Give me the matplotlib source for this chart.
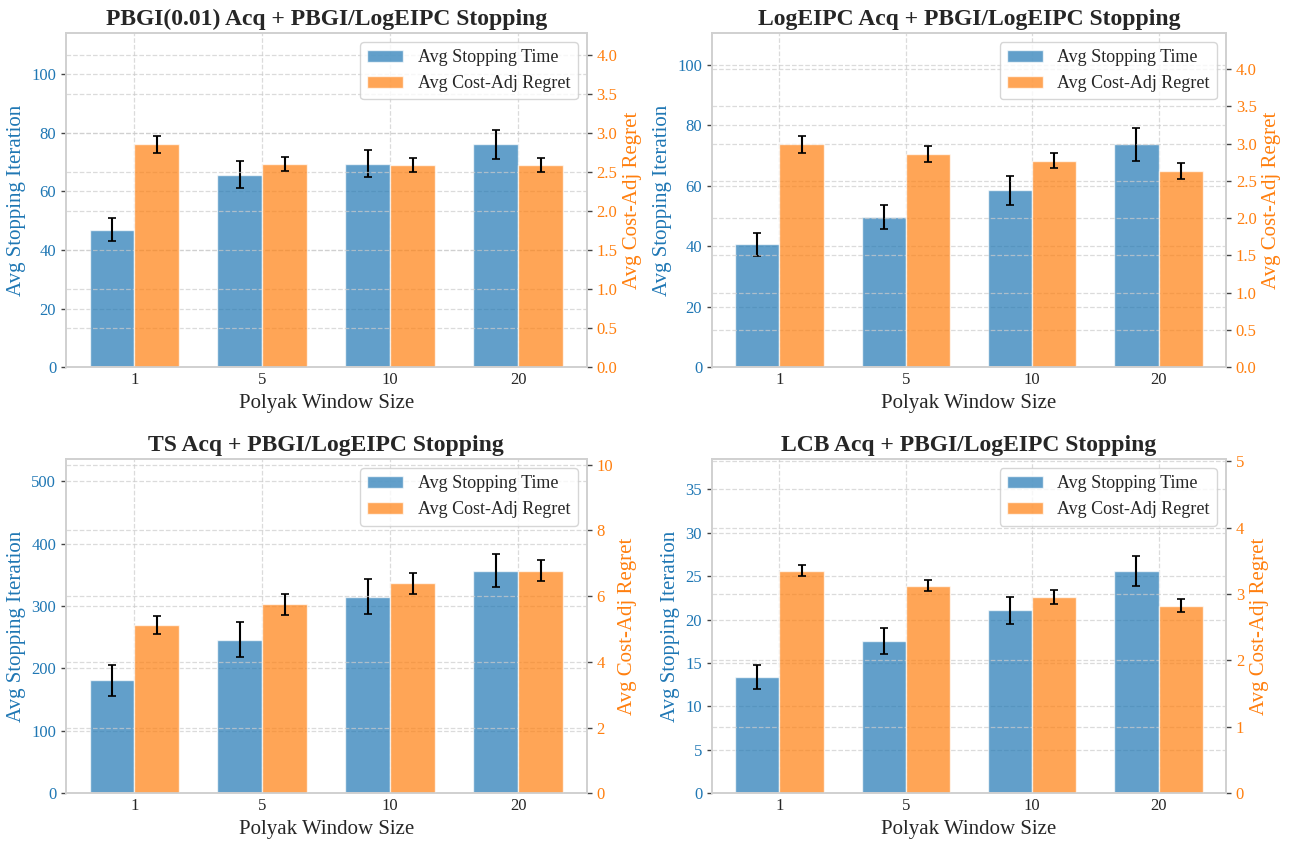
import matplotlib.pyplot as plt
import numpy as np

# ─── data ─────────────────────────────────────────────────────────────────────
windows = ["1", "5", "10", "20"]

titles = [
    "PBGI(0.01) Acq + PBGI/LogEIPC Stopping",
    "LogEIPC Acq + PBGI/LogEIPC Stopping",
    "TS Acq + PBGI/LogEIPC Stopping",
    "LCB Acq + PBGI/LogEIPC Stopping",
]

# avg stopping iteration (mean, err) per panel
stop_pbgi = [46.8, 65.7, 69.4, 76.0]
stop_pbgi_err = [3.9, 4.5, 4.7, 4.9]
stop_logeipc = [40.6, 49.7, 58.5, 73.7]
stop_logeipc_err = [3.7, 4.0, 4.8, 5.5]
stop_ts = [180.8, 246.2, 315.0, 356.8]
stop_ts_err = [24.7, 28.0, 27.9, 26.3]
stop_lcb = [13.38, 17.5, 21.05, 25.64]
stop_lcb_err = [1.39, 1.5, 1.58, 1.73]

# avg cost-adjusted regret (mean, err) per panel
regret_pbgi = [2.854, 2.597, 2.584, 2.584]
regret_pbgi_err = [0.11, 0.09, 0.09, 0.09]
regret_logeipc = [2.99, 2.858, 2.769, 2.634]
regret_logeipc_err = [0.11, 0.11, 0.10, 0.11]
regret_ts = [5.13, 5.75, 6.40, 6.78]
regret_ts_err = [0.27, 0.32, 0.32, 0.32]
regret_lcb = [3.354, 3.126, 2.955, 2.823]
regret_lcb_err = [0.08, 0.08, 0.10, 0.10]

panels = [
    (stop_pbgi, stop_pbgi_err, regret_pbgi, regret_pbgi_err),
    (stop_logeipc, stop_logeipc_err, regret_logeipc, regret_logeipc_err),
    (stop_ts, stop_ts_err, regret_ts, regret_ts_err),
    (stop_lcb, stop_lcb_err, regret_lcb, regret_lcb_err),
]

# ─── style ────────────────────────────────────────────────────────────────────
plt.style.use("seaborn-v0_8-whitegrid")
plt.rcParams["font.family"] = ["Liberation Serif", "DejaVu Serif"]

BLUE = "#1f77b4"
ORANGE = "#ff7f0e"
SPINE = "#d0d0d0"
BAR_W = 0.35

# axes rectangles [left, bottom, width, height] in figure fractions
positions = [
    [0.051, 0.565, 0.403, 0.396],
    [0.551, 0.565, 0.398, 0.396],
    [0.051, 0.060, 0.403, 0.396],
    [0.551, 0.060, 0.398, 0.396],
]


def style_axis(a):
    for sp in a.spines.values():
        sp.set_color(SPINE)
        sp.set_linewidth(1.2)
    a.grid(True, linestyle="--", color="#cccccc", alpha=0.7, linewidth=0.9)


fig = plt.figure(figsize=(12.92, 8.44), dpi=100)

for pos, title, (stop, stop_err, reg, reg_err) in zip(positions, titles, panels):
    ax = fig.add_axes(pos)
    ax2 = ax.twinx()
    x = np.arange(len(windows))

    b1 = ax.bar(x - BAR_W / 2, stop, BAR_W, yerr=stop_err, capsize=3,
                color=BLUE, alpha=0.7, edgecolor="white", linewidth=1,
                error_kw=dict(ecolor="black", elinewidth=1.5, capthick=1.2),
                label="Avg Stopping Time")
    b2 = ax2.bar(x + BAR_W / 2, reg, BAR_W, yerr=reg_err, capsize=3,
                 color=ORANGE, alpha=0.7, edgecolor="white", linewidth=1,
                 error_kw=dict(ecolor="black", elinewidth=1.5, capthick=1.2),
                 label="Avg Cost-Adj Regret")

    ax.set_ylim(0, max(stop) * 1.5)
    ax2.set_ylim(0, max(reg) * 1.5)

    ax.set_xticks(x)
    ax.set_xticklabels(windows, fontsize=12)
    ax.set_xlabel("Polyak Window Size", fontsize=15)
    ax.set_ylabel("Avg Stopping Iteration", fontsize=15, color=BLUE)
    ax2.set_ylabel("Avg Cost-Adj Regret", fontsize=15, color=ORANGE)
    ax.set_title(title, fontsize=17, fontweight="bold", pad=6)

    ax.tick_params(axis="y", labelcolor=BLUE, labelsize=12, left=True,
                   length=3.5, width=1, color="#444444")
    ax2.tick_params(axis="y", labelcolor=ORANGE, labelsize=12, right=True,
                    length=3.5, width=1, color="#444444")
    ax.tick_params(axis="x", bottom=False)

    style_axis(ax)
    style_axis(ax2)

    ax2.legend([b1, b2], ["Avg Stopping Time", "Avg Cost-Adj Regret"],
               loc="upper right", fontsize=13, frameon=True, framealpha=0.8,
               edgecolor="#cccccc", fancybox=True)

fig.savefig("out.png", dpi=100)
